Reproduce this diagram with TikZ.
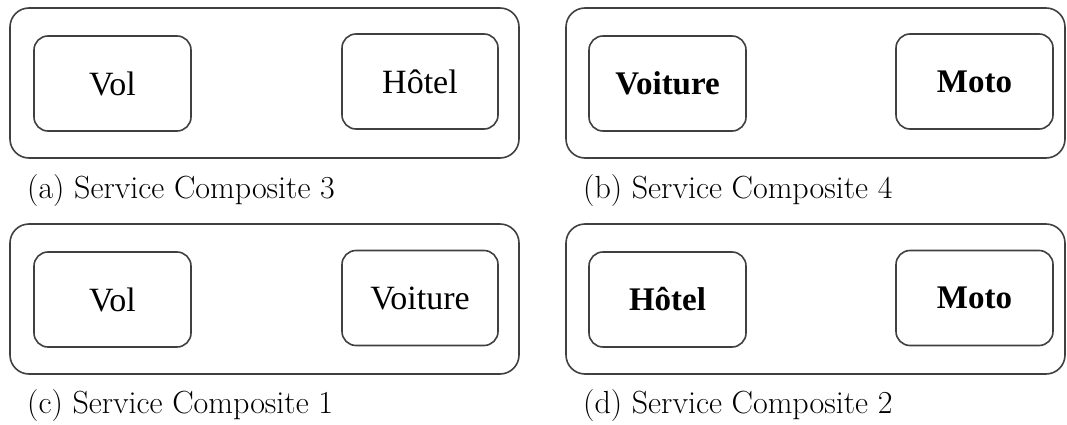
\documentclass[tikz,border=0pt]{standalone}
\usepackage{fontspec}
\newfontfamily\boxfont{Liberation Serif}
\begin{document}
\begin{tikzpicture}[x=1pt,y=-1pt,
  linecol/.style={draw=black!75, line width=1.6pt},
  group/.style={linecol, rounded corners=19pt, inner sep=0pt, minimum height=150pt, minimum width=499pt},
  service/.style={linecol, rounded corners=14pt, inner sep=0pt, minimum width=157pt, minimum height=95pt, font=\boxfont\fontsize{34}{40}\selectfont},
  bservice/.style={service, font=\boxfont\bfseries\fontsize{33}{40}\selectfont},
  caption/.style={anchor=base west, inner sep=0pt, font=\fontsize{32}{38}\selectfont}]
\useasboundingbox (0,0) rectangle (1067,425);

% (a) composite 3
\node[group, minimum width=509pt] (ga) at (264.5,83) {};
\node[service] (a1) at (112.5,83.5) {Vol};
\node[service, minimum width=156pt] (a2) at (420,81.5) {Hôtel};
\node[caption] (capa) at (27,198) {(a) Service Composite 3};

% (b) composite 4
\node[group] (gb) at (815.5,83) {};
\node[bservice] (b1) at (667.5,83.5) {Voiture};
\node[bservice] (b2) at (974.5,81.5) {Moto};
\node[caption] (capb) at (583,198) {(b) Service Composite 4};

% (c) composite 1
\node[group, minimum width=509pt] (gc) at (264.5,299) {};
\node[service] (c1) at (112.5,299.5) {Vol};
\node[service, minimum width=156pt] (c2) at (420,298) {Voiture};
\node[caption] (capc) at (27,413) {(c) Service Composite 1};

% (d) composite 2
\node[group] (gd) at (815.5,299) {};
\node[bservice] (d1) at (667.5,299.5) {Hôtel};
\node[bservice] (d2) at (974.5,298) {Moto};
\node[caption] (capd) at (583,413) {(d) Service Composite 2};
\end{tikzpicture}
\end{document}
